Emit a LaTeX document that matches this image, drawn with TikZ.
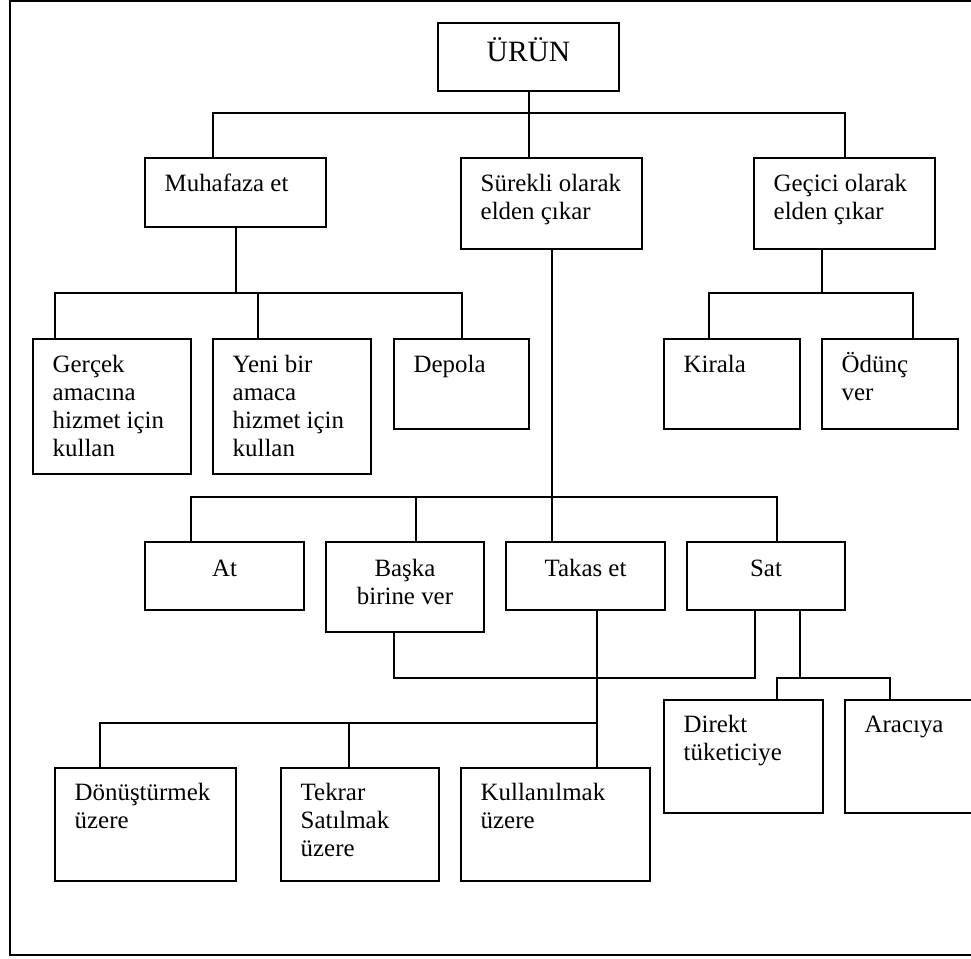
\documentclass[tikz,border=0pt]{standalone}
\usepackage{fontspec}
\setmainfont{Liberation Serif}
\usetikzlibrary{fit,calc}
\newcommand{\tabl}[1]{\begin{tabular}[t]{@{}l@{}}#1\end{tabular}}
\newcommand{\tabc}[1]{\begin{tabular}[t]{@{}c@{}}#1\end{tabular}}
\begin{document}
\begin{tikzpicture}[x=1pt,y=-1pt,
  box/.style={draw, line width=2pt, inner sep=0pt, outer sep=0pt},
  ltxt/.style={anchor=base west, inner sep=0pt, font=\fontsize{24.9}{28.3}\selectfont},
  ctxt/.style={anchor=base, inner sep=0pt, font=\fontsize{24.9}{28.3}\selectfont},
  conn/.style={line width=2pt},
  frame/.style={line width=2pt}]
\useasboundingbox (0,0) rectangle (971,958);
\clip (0,0) rectangle (971,958);
% outer frame
\draw[frame] (990,1) -- (10,1) -- (10,955) -- (990,955);
% boxes
\node[box, fit={(438,23) (619,91)}] (urun) {};
\node[box, fit={(145,158) (326,227)}] (muh) {};
\node[box, fit={(461,158) (642,249)}] (sur) {};
\node[box, fit={(754,158) (935,249)}] (gec) {};
\node[box, fit={(33,339) (191,474)}] (ger) {};
\node[box, fit={(213,339) (371,474)}] (yen) {};
\node[box, fit={(394,339) (529,429)}] (dep) {};
\node[box, fit={(664,339) (800,429)}] (kir) {};
\node[box, fit={(822,339) (958,429)}] (odu) {};
\node[box, fit={(145,542) (304,610)}] (at) {};
\node[box, fit={(326,542) (484,632)}] (bas) {};
\node[box, fit={(506,542) (665,610)}] (tak) {};
\node[box, fit={(687,542) (845,610)}] (sat) {};
\node[box, fit={(55,768) (236,881)}] (don) {};
\node[box, fit={(281,768) (439,881)}] (tek) {};
\node[box, fit={(461,768) (650,881)}] (kul) {};
\node[box, fit={(664,700) (823,813)}] (dir) {};
\node[box, fit={(845,700) (1004,813)}] (ara) {};
% labels
\node[anchor=base, inner sep=0pt, font=\fontsize{29.5}{32}\selectfont] (urunL) at ($(urun.north)+(0,39)$) {ÜRÜN};
\node[ltxt] (muhL) at ($(muh.north west)+(19.5,33.5)$) {\tabl{Muhafaza et}};
\node[ltxt] (surL) at ($(sur.north west)+(19.5,33.5)$) {\tabl{Sürekli olarak\\elden çıkar}};
\node[ltxt] (gecL) at ($(gec.north west)+(19.5,33.5)$) {\tabl{Geçici olarak\\elden çıkar}};
\node[ltxt] (gerL) at ($(ger.north west)+(19.5,33)$) {\tabl{Gerçek\\amacına\\hizmet için\\kullan}};
\node[ltxt] (yenL) at ($(yen.north west)+(19.5,33)$) {\tabl{Yeni bir\\amaca\\hizmet için\\kullan}};
\node[ltxt] (depL) at ($(dep.north west)+(19.5,33)$) {\tabl{Depola}};
\node[ltxt] (kirL) at ($(kir.north west)+(19.5,33)$) {\tabl{Kirala}};
\node[ltxt] (oduL) at ($(odu.north west)+(19.5,33)$) {\tabl{Ödünç\\ver}};
\node[ctxt] (atL) at ($(at.north)+(0,34)$) {\tabc{At}};
\node[ctxt] (basL) at ($(bas.north)+(0,34)$) {\tabc{Başka\\birine ver}};
\node[ctxt] (takL) at ($(tak.north)+(0,34)$) {\tabc{Takas et}};
\node[ctxt] (satL) at ($(sat.north)+(0,34)$) {\tabc{Sat}};
\node[ltxt] (donL) at ($(don.north west)+(19.5,32)$) {\tabl{Dönüştürmek\\üzere}};
\node[ltxt] (tekL) at ($(tek.north west)+(19.5,32)$) {\tabl{Tekrar\\Satılmak\\üzere}};
\node[ltxt] (kulL) at ($(kul.north west)+(19.5,32)$) {\tabl{Kullanılmak\\üzere}};
\node[ltxt] (dirL) at ($(dir.north west)+(19.5,32)$) {\tabl{Direkt\\tüketiciye}};
\node[ltxt] (araL) at ($(ara.north west)+(19.5,32)$) {\tabl{Aracıya}};
% bus levels and entry points
\coordinate (bus1) at (0,113);
\coordinate (bus2) at (0,293);
\coordinate (bus3) at (0,497);
\coordinate (bus4) at (0,678);
\coordinate (bus5) at (0,723);
\coordinate (muhIn) at (213,158);
\coordinate (gecOut) at (822,249);
\coordinate (gerIn) at (55,339);
\coordinate (yenIn) at (258,339);
\coordinate (kirIn) at (709,339);
\coordinate (oduIn) at (913,339);
\coordinate (atIn) at (191,542);
\coordinate (basIn) at (416,542);
\coordinate (satIn) at (777,542);
\coordinate (basOut) at (394,632);
\coordinate (takOut) at (597,610);
\coordinate (satOutA) at (755,610);
\coordinate (satOutB) at (800,610);
\coordinate (donIn) at (100,768);
\coordinate (tekIn) at (349,768);
\coordinate (dirIn) at (777,700);
\coordinate (araIn) at (890,700);
% connectors
\draw[conn] (urun.south) -- (urun.south |- sur.north);
\draw[conn] (muhIn) -- (muhIn |- bus1) -- (gec.north |- bus1) -- (gec.north);
\draw[conn] (muh.south) -- (muh.south |- bus2);
\draw[conn] (gerIn) -- (gerIn |- bus2) -- (dep.north |- bus2) -- (dep.north);
\draw[conn] (yenIn) -- (yenIn |- bus2);
\draw[conn] (gecOut) -- (gecOut |- bus2);
\draw[conn] (kirIn) -- (kirIn |- bus2) -- (oduIn |- bus2) -- (oduIn);
\draw[conn] (sur.south) -- (sur.south |- tak.north);
\draw[conn] (atIn) -- (atIn |- bus3) -- (satIn |- bus3) -- (satIn);
\draw[conn] (basIn) -- (basIn |- bus3);
\draw[conn] (basOut) -- (basOut |- bus4) -- (satOutA |- bus4) -- (satOutA);
\draw[conn] (takOut) -- (takOut |- kul.north);
\draw[conn] (donIn) -- (donIn |- bus5) -- (takOut |- bus5);
\draw[conn] (tekIn) -- (tekIn |- bus5);
\draw[conn] (satOutB) -- (satOutB |- bus4);
\draw[conn] (dirIn) -- (dirIn |- bus4) -- (araIn |- bus4) -- (araIn);
\end{tikzpicture}
\end{document}
